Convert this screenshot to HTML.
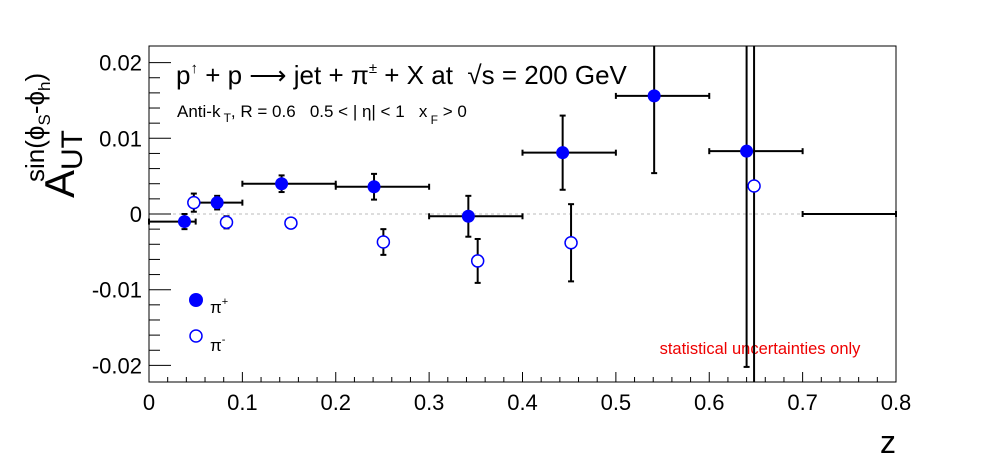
<!DOCTYPE html>
<html><head><meta charset="utf-8"><style>body{margin:0;background:#fff}svg{display:block;font-family:"Liberation Sans",sans-serif}text{white-space:pre}</style></head>
<body>
<svg id="c" width="996" height="472" xmlns="http://www.w3.org/2000/svg"></svg>
<script>
const binLo=[0,0.05,0.1,0.2,0.3,0.4,0.5,0.6,0.7];
const binHi=[0.05,0.1,0.2,0.3,0.4,0.5,0.6,0.7,0.8];
const pipX=[0.038,0.073,0.142,0.241,0.342,0.443,0.541,0.640];
const pipY=[-0.0010,0.0015,0.0040,0.0036,-0.0003,0.0081,0.0156,0.0083];
const pipErr=[0.0010,0.0009,0.0011,0.0017,0.0027,0.0049,0.0102,0.0285];
const pimX=[0.048,0.083,0.152,0.251,0.352,0.452,0.648];
const pimY=[0.0015,-0.0011,-0.0012,-0.0037,-0.0062,-0.0038,0.0037];
const pimErr=[0.0012,0.0008,0.0006,0.0017,0.0029,0.0051,0.030];
const xTicks=[0,0.1,0.2,0.3,0.4,0.5,0.6,0.7,0.8];
const xTickLabels=["0","0.1","0.2","0.3","0.4","0.5","0.6","0.7","0.8"];
const yTicks=[-0.02,-0.01,0,0.01,0.02];
const yTickLabels=["-0.02","-0.01","0","0.01","0.02"];
const L=149,R=896,T=46,B=382;
const X=v=>L+(v-0)/0.8*(R-L);
const Y=v=>214-v*7570;
const svg=document.getElementById('c');const NS='http://www.w3.org/2000/svg';
function el(t,a,name,txt){const e=document.createElementNS(NS,t);for(const k in a)e.setAttribute(k,a[k]);


if(txt!==undefined)e.textContent=txt;svg.appendChild(e);return e;}
const cl=n=>Math.max(T,Math.min(B,n));
el('rect',{x:L,y:T,width:R-L,height:B-T,fill:'none',stroke:'#000','stroke-width':1},'plot-frame');
el('line',{x1:L,x2:R,y1:Y(0),y2:Y(0),stroke:'#bbb','stroke-dasharray':'3,3'},'zero-line');
for(let v=-0.02;v<=0.0201;v+=0.002){const big=Math.abs(v/0.01-Math.round(v/0.01))<1e-6;
el('line',{x1:L,x2:L+(big?22:11),y1:Y(v),y2:Y(v),stroke:'#000'},'y-tick');}
for(let v=0;v<=0.8001;v+=0.02){const big=Math.abs(v/0.1-Math.round(v/0.1))<1e-6;
el('line',{x1:X(v),x2:X(v),y1:B,y2:B-(big?10:5),stroke:'#000'},'x-tick');}
xTicks.forEach((v,i)=>el('text',{x:X(v),y:410,'font-size':22,'text-anchor':'middle'},'x-tick-label',xTickLabels[i]));
yTicks.forEach((v,i)=>el('text',{x:L-7,y:Y(v)+8,'font-size':22,'text-anchor':'end'},'y-tick-label',yTickLabels[i]));
el('text',{x:888,y:453,'font-size':32,'text-anchor':'middle'},'x-axis-title','z');
const yt=el('text',{x:0,y:0,'font-size':42,transform:'translate(74,198) rotate(-90)'},'y-axis-title','');
yt.innerHTML='A<tspan font-size="30" dy="8">UT</tspan><tspan font-size="26" dx="-52" dy="-38">sin(ϕ</tspan><tspan font-size="17" dy="6">S</tspan><tspan font-size="26" dy="-6">-ϕ</tspan><tspan font-size="17" dy="6">h</tspan><tspan font-size="26" dy="-6">)</tspan>';
const tt=el('text',{x:176,y:84,'font-size':26},'plot-title','');
tt.innerHTML='p<tspan font-size="15" dy="-11">↑</tspan><tspan dy="11"> + p ⟶ jet + π</tspan><tspan font-size="15" dy="-11">±</tspan><tspan dy="11"> + X at  √s = 200 GeV</tspan>';
const st=el('text',{x:177,y:117,'font-size':17},'plot-subtitle','');
st.innerHTML='Anti-k<tspan font-size="12" dy="5"> T</tspan><tspan dy="-5">, R = 0.6   0.5 &lt; | η| &lt; 1   x</tspan><tspan font-size="12" dy="7"> F</tspan><tspan dy="-7"> &gt; 0</tspan>';
el('text',{x:760,y:354,'font-size':16.5,fill:'#e00','text-anchor':'middle'},'uncertainty-note','statistical uncertainties only');
function bar(x,y,e,name){el('line',{x1:X(x),x2:X(x),y1:cl(Y(y+e)),y2:cl(Y(y-e)),stroke:'#000','stroke-width':2},name);
[y+e,y-e].forEach(v=>{if(Y(v)>T&&Y(v)<B)el('line',{x1:X(x)-3,x2:X(x)+3,y1:Y(v),y2:Y(v),stroke:'#000','stroke-width':2},name+'-cap');});}
binLo.forEach((lo,i)=>{const y=i<pipY.length?pipY[i]:0;
el('line',{x1:X(lo),x2:X(binHi[i]),y1:Y(y),y2:Y(y),stroke:'#000','stroke-width':2},'pi-plus-xerr');
[lo,binHi[i]].forEach(v=>el('line',{x1:X(v),x2:X(v),y1:Y(y)-3,y2:Y(y)+3,stroke:'#000','stroke-width':2},'pi-plus-xerr-cap'));});
pipX.forEach((x,i)=>{bar(x,pipY[i],pipErr[i],'pi-plus-yerr');el('circle',{cx:X(x),cy:Y(pipY[i]),r:6.5,fill:'#00f'},'pi-plus-point');});
pimX.forEach((x,i)=>{bar(x,pimY[i],pimErr[i],'pi-minus-yerr');el('circle',{cx:X(x),cy:Y(pimY[i]),r:6,fill:'#fff',stroke:'#00f','stroke-width':1.5},'pi-minus-point');});
el('circle',{cx:196,cy:300,r:7,fill:'#00f'},'legend-pi-plus-marker');
const l1=el('text',{x:210,y:313,'font-size':17},'legend-pi-plus-label','');l1.innerHTML='π<tspan font-size="11" dy="-8">+</tspan>';
el('circle',{cx:196,cy:336,r:6,fill:'#fff',stroke:'#00f','stroke-width':1.5},'legend-pi-minus-marker');
const l2=el('text',{x:210,y:351,'font-size':17},'legend-pi-minus-label','');l2.innerHTML='π<tspan font-size="11" dy="-8">-</tspan>';
</script>
</body></html>
